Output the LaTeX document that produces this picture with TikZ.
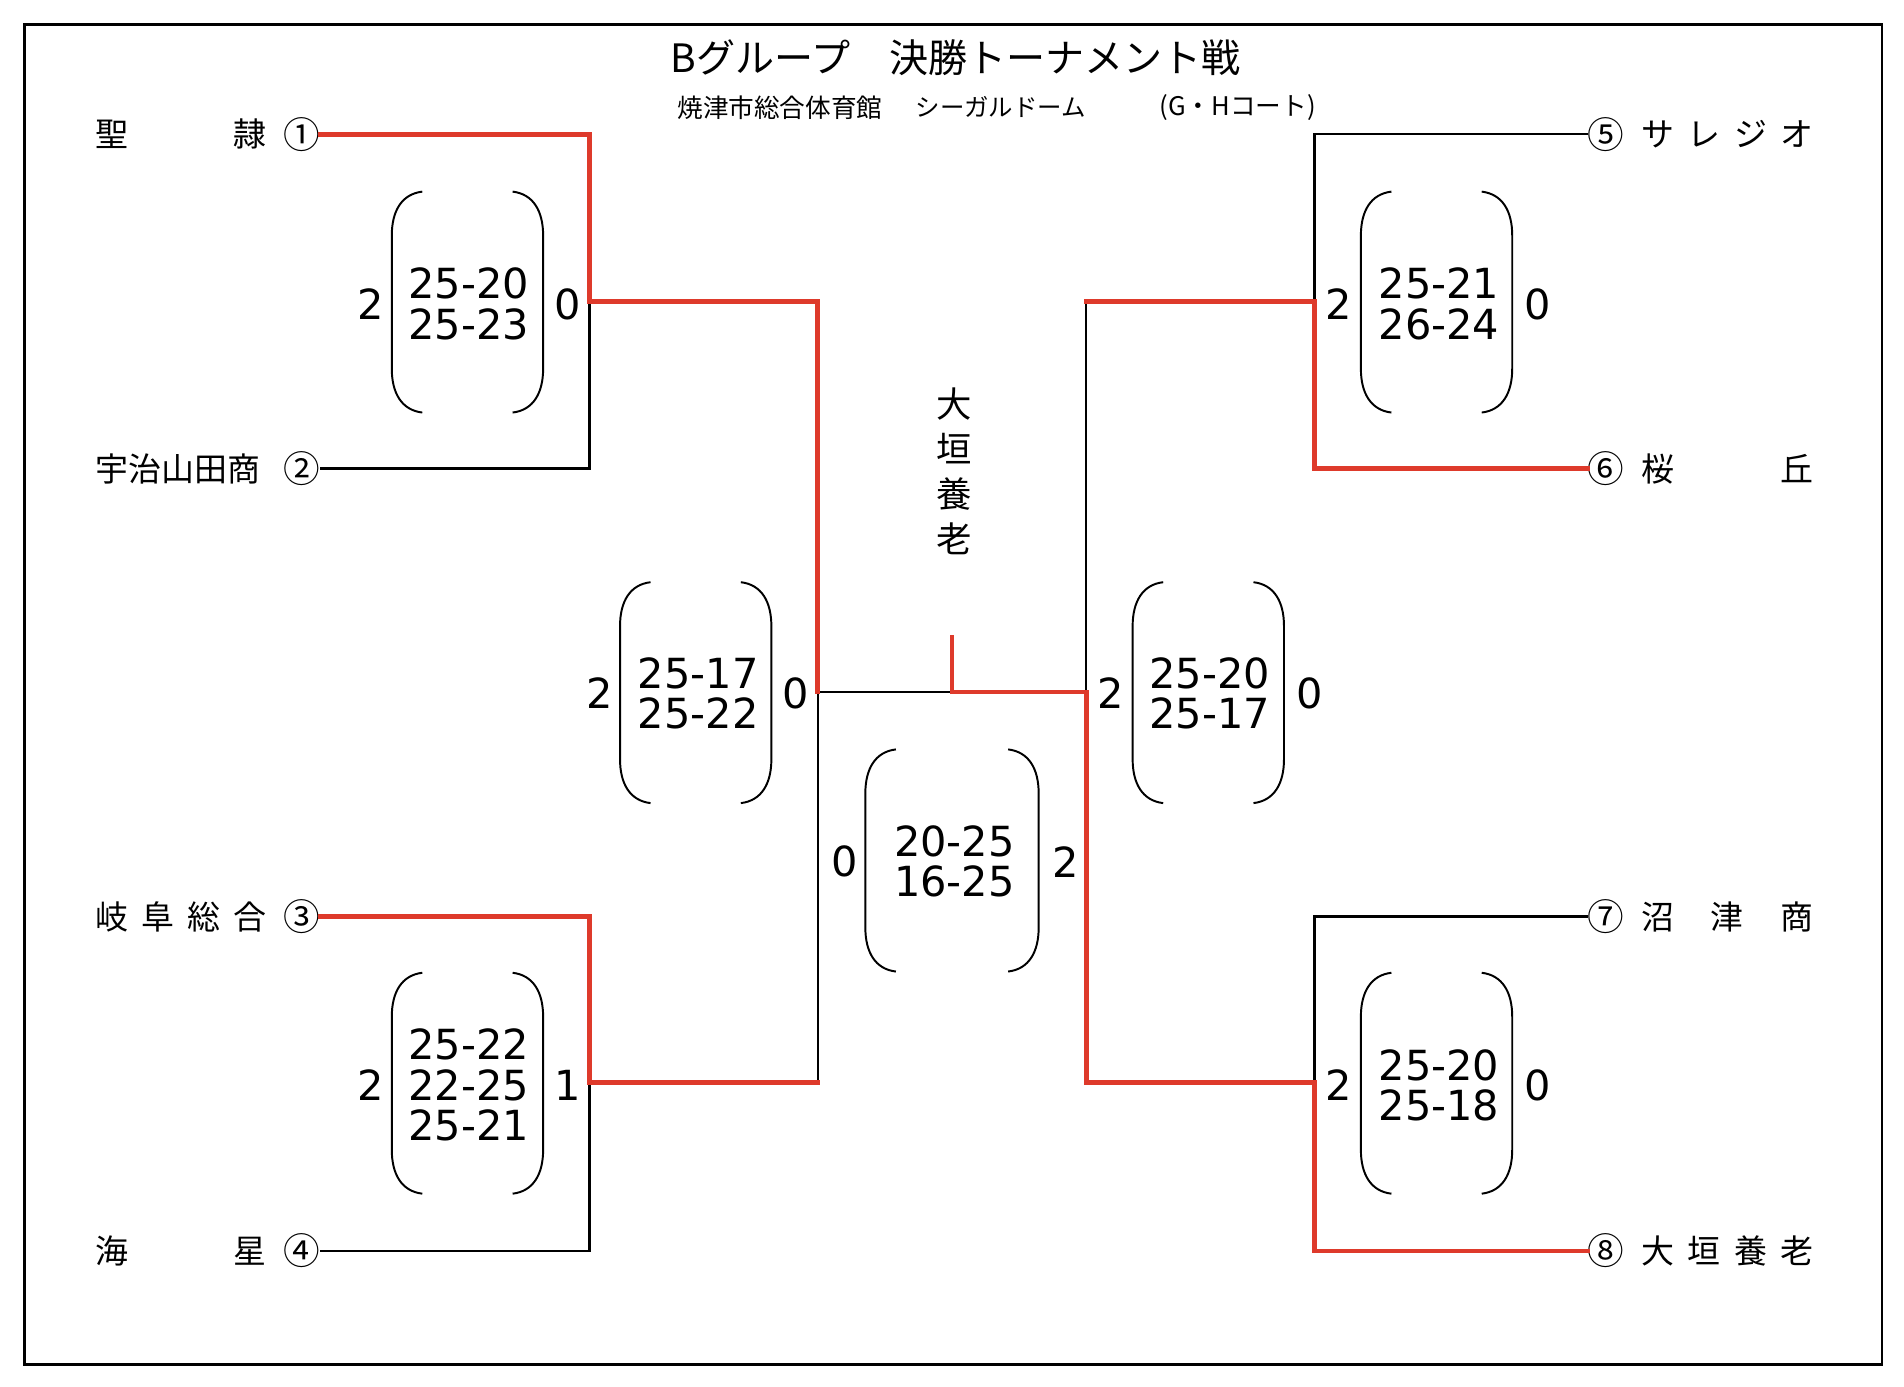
\documentclass[tikz,border=0pt]{standalone}
\usepackage{fontspec}
\newfontfamily\jp{Noto Sans CJK JP}
\newfontfamily\digits{DejaVu Sans}
\definecolor{winred}{RGB}{222,58,43}
\newcommand\drawparens[4]{%
  \draw[parenline] (#1+25,#3) .. controls (#1+8,#3+2) and (#1,#3+16) .. (#1,#3+36) -- (#1,#4-36) .. controls (#1,#4-16) and (#1+8,#4-2) .. (#1+25,#4);
  \draw[parenline] (#2-25,#3) .. controls (#2-8,#3+2) and (#2,#3+16) .. (#2,#3+36) -- (#2,#4-36) .. controls (#2,#4-16) and (#2-8,#4-2) .. (#2-25,#4);}
\begin{document}
\begin{tikzpicture}[x=1pt,y=-1pt,
  blk/.style={line width=2pt,black,line join=miter},
  win/.style={line width=4pt,winred,line join=miter,line cap=rect},
  parenline/.style={line width=1.6pt,black},
  team/.style={inner sep=0pt,font=\jp\fontsize{27}{27}\selectfont},
  seed/.style={inner sep=0pt,font=\jp\fontsize{30}{30}\selectfont},
  score/.style={inner sep=0pt,align=center,font=\digits\fontsize{34}{33}\selectfont},
  sets/.style={inner sep=0pt,font=\digits\fontsize{34}{34}\selectfont}]
\useasboundingbox (0,0) rectangle (1560,1136);
\draw[line width=2pt] (20,20) rectangle (1542,1118);
% titles
\node[inner sep=0pt,font=\jp\fontsize{32}{32}\selectfont] (title) at (783,47) {Bグループ　決勝トーナメント戦};
\node[inner sep=0pt,font=\jp\fontsize{21}{21}\selectfont] (sub1) at (639,88) {焼津市総合体育館};
\node[inner sep=0pt,font=\jp\fontsize{20}{20}\selectfont] (sub2) at (820,88) {シーガルドーム};
\node[inner sep=0pt,font=\jp\fontsize{21}{21}\selectfont] (sub3) at (1014,88) {(G・Hコート)};
% left teams
\node[team,anchor=west] (t1) at (78,110) {\makebox[140pt][s]{聖\hfill 隷}};
\node[team,anchor=west] (t2) at (78,384) {\makebox[140pt][s]{宇治山田商}};
\node[team,anchor=west] (t3) at (78,751) {\makebox[140pt][s]{岐\hfill 阜\hfill 総\hfill 合}};
\node[team,anchor=west] (t4) at (78,1025) {\makebox[140pt][s]{海\hfill 星}};
\node[seed] (n1) at (247,110) {①};
\node[seed] (n2) at (247,384) {②};
\node[seed] (n3) at (247,751) {③};
\node[seed] (n4) at (247,1025) {④};
% right teams
\node[team,anchor=east] (t5) at (1486,110) {\makebox[141pt][s]{サ\hfill レ\hfill ジ\hfill オ}};
\node[team,anchor=east] (t6) at (1486,384) {\makebox[141pt][s]{桜\hfill 丘}};
\node[team,anchor=east] (t7) at (1486,751) {\makebox[141pt][s]{沼\hfill 津\hfill 商}};
\node[team,anchor=east] (t8) at (1486,1025) {\makebox[141pt][s]{大\hfill 垣\hfill 養\hfill 老}};
\node[seed] (n5) at (1316,110) {⑤};
\node[seed] (n6) at (1316,384) {⑥};
\node[seed] (n7) at (1316,751) {⑦};
\node[seed] (n8) at (1316,1025) {⑧};
% champion
\node[inner sep=0pt,align=center,font=\jp\fontsize{29}{37}\selectfont] (champ) at (782,386) {大\\垣\\養\\老};
% junctions
\coordinate (A) at (483,247);
\coordinate (B) at (483,887);
\coordinate (C) at (670,567);
\coordinate (D) at (1077,247);
\coordinate (E) at (1077,887);
\coordinate (F) at (890,567);
\coordinate (G) at (780,567);
\coordinate (H) at (780,522);
% black connectors
\draw[blk] (n2.east) -- (n2.east -| A) -- (A);
\draw[blk] (n4.east) -- (n4.east -| B) -- (B);
\draw[blk] (B -| C) -- (C) -- (G);
\draw[blk] (F) -- (F |- D);
\draw[blk] (n5.west) -- (n5.west -| D) -- (D);
\draw[blk] (n7.west) -- (n7.west -| E) -- (E);
% winners
\draw[win] (n1.east) -- (n1.east -| A) -- (A) -- (A -| C) -- (C);
\draw[win] (n3.east) -- (n3.east -| B) -- (B) -- (B -| C);
\draw[win] (F |- D) -- (D) -- (D |- n6) -- (n6.west);
\draw[win] (H) -- (G) -- (F) -- (F |- E) -- (E) -- (E |- n8) -- (n8.west);
% score boxes
\drawparens{321}{445}{157}{338}
\drawparens{508}{632}{477}{658}
\drawparens{321}{445}{797}{978}
\drawparens{709}{851}{614}{796}
\drawparens{928}{1052}{477}{658}
\drawparens{1115}{1239}{157}{338}
\drawparens{1115}{1239}{797}{978}
\node[score] (s1) at (384,249) {25-20\\25-23};
\node[sets] (s1a) at (304,249) {2};
\node[sets] (s1b) at (465,249) {0};
\node[score] (s2) at (572,568) {25-17\\25-22};
\node[sets] (s2a) at (491,568) {2};
\node[sets] (s2b) at (652,568) {0};
\node[score] (s3) at (384,889) {25-22\\22-25\\25-21};
\node[sets] (s3a) at (304,889) {2};
\node[sets] (s3b) at (465,889) {1};
\node[score] (s4) at (782,706) {20-25\\16-25};
\node[sets] (s4a) at (692,706) {0};
\node[sets] (s4b) at (873,706) {2};
\node[score] (s5) at (991,568) {25-20\\25-17};
\node[sets] (s5a) at (910,568) {2};
\node[sets] (s5b) at (1073,568) {0};
\node[score] (s6) at (1179,249) {25-21\\26-24};
\node[sets] (s6a) at (1097,249) {2};
\node[sets] (s6b) at (1260,249) {0};
\node[score] (s7) at (1179,889) {25-20\\25-18};
\node[sets] (s7a) at (1097,889) {2};
\node[sets] (s7b) at (1260,889) {0};
\end{tikzpicture}
\end{document}
